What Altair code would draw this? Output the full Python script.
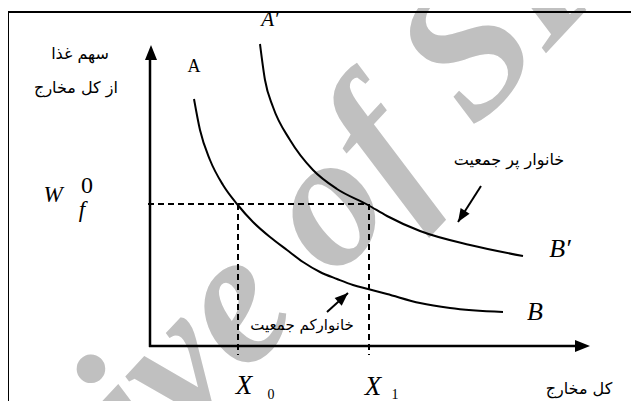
import altair as alt
import pandas as pd

# Coordinates are in chart units measured from the axis origin (x right, y up).
# Curve A-B (small household) and A'-B' (large household)
curve_ab_x = [44, 50, 60, 73, 87, 103, 120, 137, 153, 170, 187, 203, 218, 237, 270, 300, 353]
curve_ab_y = [247, 216, 186, 161, 142, 124, 109, 96, 84, 74, 67, 61, 57, 52, 43, 38, 34]
curve_apbp_x = [110, 115, 123, 140, 163, 187, 218, 237, 270, 320, 373]
curve_apbp_y = [302, 266, 239, 206, 176, 157, 141, 130, 115, 101, 90]

# Reference levels
w0 = 142          # W_f^0
x0 = 88           # X_0
x1 = 219          # X_1

# Solid segments: frame, axes, annotation arrow shafts
seg_x1 = [-142, -142, 0, -1, 331, 177]
seg_y1 = [-55, 334, -1, 0, 160, 34]
seg_x2 = [-142, 481, 0, 432, 308, 198]
seg_y2 = [334, 334, 290, 0, 124, 53]
seg_w = [2, 2, 2.5, 2.5, 2, 2]

# Dashed guide segments
dash_x1 = [-2, x0, x1]
dash_y1 = [w0, w0, w0]
dash_x2 = [x1 - 1, x0, x1]
dash_y2 = [w0, -9, -9]

# Arrow heads (tip position, direction angle, size)
head_x = [1, 440, 308, 198]
head_y = [301, 0, 124, 53]
head_angle = [0, 90, 212.5, 47.9]
head_size = [900, 900, 700, 700]

# Labels
ital_text = ["A\u2032", "W", "f", "B\u2032", "B", "X", "X"]
ital_x = [120, -97, -68, 410, 385, 94, 223]
ital_y = [326, 151, 136, 97, 34, -40, -41]
ital_fs = [21, 23, 23, 26, 26, 27, 27]

reg_text = ["A", "0", "0", "1"]
reg_x = [44, -63, 121, 245]
reg_y = [279, 160, -49, -49]
reg_fs = [18, 24, 14, 14]

fa_text = ["سهم غذا", "از کل مخارج", "خانوار پر جمعیت", "خانوارکم جمعیت", "کل مخارج"]
fa_x = [-70, -74, 359, 152, 429]
fa_y = [292, 258, 186, 21, -43]
fa_fs = [16, 16, 16, 15, 16]

wm_text = ["Archive of SID"]
wm_x = [138]
wm_y = [16]

xs = alt.Scale(domain=[-142, 481], nice=False, zero=False)
ys = alt.Scale(domain=[-55, 338], nice=False, zero=False)


def X(f="x"):
    return alt.X(f"{f}:Q", scale=xs, axis=None)


def Y(f="y"):
    return alt.Y(f"{f}:Q", scale=ys, axis=None)


curves = pd.concat([
    pd.DataFrame({"x": curve_ab_x, "y": curve_ab_y, "c": "AB"}),
    pd.DataFrame({"x": curve_apbp_x, "y": curve_apbp_y, "c": "ApBp"}),
])
segs = pd.DataFrame({"x": seg_x1, "y": seg_y1, "x2": seg_x2, "y2": seg_y2, "w": seg_w})
dashes = pd.DataFrame({"x": dash_x1, "y": dash_y1, "x2": dash_x2, "y2": dash_y2})
heads = pd.DataFrame({"x": head_x, "y": head_y, "a": head_angle, "s": head_size})
ital = pd.DataFrame({"x": ital_x, "y": ital_y, "t": ital_text, "fs": ital_fs})
reg = pd.DataFrame({"x": reg_x, "y": reg_y, "t": reg_text, "fs": reg_fs})
fa = pd.DataFrame({"x": fa_x, "y": fa_y, "t": fa_text, "fs": fa_fs})
wm = pd.DataFrame({"x": wm_x, "y": wm_y, "t": wm_text})

watermark = alt.Chart(wm).mark_text(
    font="Liberation Serif", fontStyle="italic", fontWeight="bold", fontSize=190,
    color="#c0c0c0", angle=313, align="center", baseline="alphabetic"
).encode(x=X(), y=Y(), text="t:N")

solid = alt.Chart(segs).mark_rule(color="black").encode(
    x=X(), y=Y(), x2="x2:Q", y2="y2:Q",
    strokeWidth=alt.StrokeWidth("w:Q", scale=None),
)

dashed = alt.Chart(dashes).mark_rule(color="black", strokeWidth=2, strokeDash=[6, 4]).encode(
    x=X(), y=Y(), x2="x2:Q", y2="y2:Q"
)

lines = alt.Chart(curves).mark_line(color="black", strokeWidth=2, interpolate="monotone").encode(
    x=X(), y=Y(), detail="c:N"
)

arrowheads = alt.Chart(heads).mark_point(
    shape="M0,0 L0.4,1 L-0.4,1 Z", filled=True, color="black", opacity=1, strokeWidth=0
).encode(
    x=X(), y=Y(),
    angle=alt.Angle("a:Q", scale=None),
    size=alt.Size("s:Q", scale=None),
)

t_ital = alt.Chart(ital).mark_text(
    font="Liberation Serif", fontStyle="italic", color="black", align="center", baseline="middle"
).encode(x=X(), y=Y(), text="t:N", size=alt.Size("fs:Q", scale=None))

t_reg = alt.Chart(reg).mark_text(
    font="Liberation Serif", color="black", align="center", baseline="middle"
).encode(x=X(), y=Y(), text="t:N", size=alt.Size("fs:Q", scale=None))

t_fa = alt.Chart(fa).mark_text(
    font="DejaVu Sans", color="black", align="center", baseline="middle"
).encode(x=X(), y=Y(), text="t:N", size=alt.Size("fs:Q", scale=None))

chart = alt.layer(
    watermark, dashed, lines, solid, arrowheads, t_ital, t_reg, t_fa
).properties(
    width=623, height=393, padding=0,
    autosize=alt.AutoSizeParams(type="none"),
    background="white",
).configure_view(stroke=None)

chart.save("out.html", embed_options={"renderer": "svg", "actions": False})
